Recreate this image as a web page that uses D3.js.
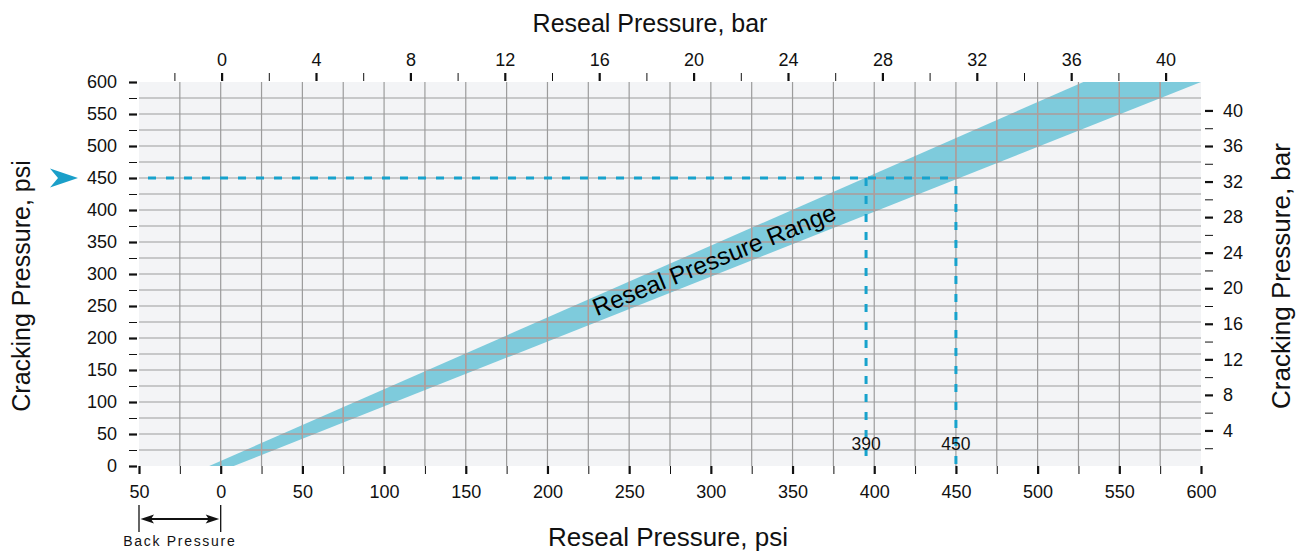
<!DOCTYPE html>
<html><head><meta charset="utf-8">
<script src="https://cdn.jsdelivr.net/npm/d3@7"></script>
<style>
html,body{margin:0;padding:0;background:#fff;}
svg{display:block;font-family:"Liberation Sans",Arial,Helvetica,sans-serif;}
</style></head><body>
<svg id="chart" width="1301" height="553"></svg>
<script>
// ---- data ----
const psiMajorTicksX = [-50,0,50,100,150,200,250,300,350,400,450,500,550,600];
const psiMinorTicksX = [-25,25,75,125,175,225,275,325,375,425,475,525,575];
const psiMajorTicksY = [0,50,100,150,200,250,300,350,400,450,500,550,600];
const psiMinorTicksY = [25,75,125,175,225,275,325,375,425,475,525,575];
const gridX = [-25,0,25,50,75,100,125,150,175,200,225,250,275,300,325,350,375,400,425,450,475,500,525,550,575];
const gridY = [25,50,75,100,125,150,175,200,225,250,275,300,325,350,375,400,425,450,475,500,525,550,575];
const barMajorTicksTop = [0,4,8,12,16,20,24,28,32,36,40];
const barMinorTicksTop = [-2,2,6,10,14,18,22,26,30,34,38];
const barMajorTicksRight = [4,8,12,16,20,24,28,32,36,40];
const barMinorTicksRight = [2,6,10,14,18,22,26,30,34,38];
// band edges: [reseal psi, cracking psi]
const bandUpperEdge = [[-7,0],[528,600]];
const bandLowerEdge = [[8,0],[600,600]];
const crackingExample = 450;
const resealMarks = [{psi:395,label:"390"},{psi:450,label:"450"}];
const backPressure = [-50,0];

// ---- scales ----
const svg = d3.select("#chart");
const x = d3.scaleLinear().domain([-50,600]).range([139,1201]);
const y = d3.scaleLinear().domain([0,600]).range([466,82]);
const xBar = d3.scaleLinear().domain([-3.5,41.5]).range([139,1201]);
const yBar = d3.scaleLinear().domain([0,43.2]).range([466,82]);

const ink = "#111";
const teal = "#7ecbdc";
const dash = "#17a2cc";

// plot background
svg.append("rect").attr("x",x(-50)).attr("y",y(600))
  .attr("width",x(600)-x(-50)).attr("height",y(0)-y(600)).attr("fill","#f3f4f6");

// band
const bandPts = bandUpperEdge.concat(bandLowerEdge.slice().reverse());
const bandPath = d3.line().x(d=>x(d[0])).y(d=>y(d[1]))(bandPts) + "Z";
svg.append("defs").append("clipPath").attr("id","bandClip")
  .append("path").attr("d",bandPath);
svg.append("path").attr("d",bandPath).attr("fill",teal);

// grid
function drawGrid(g, color){
  g.selectAll(".gx").data(gridX).enter().append("line")
    .attr("x1",d=>x(d)).attr("x2",d=>x(d)).attr("y1",y(0)).attr("y2",y(600))
    .attr("stroke",color).attr("stroke-width",1.2);
  g.selectAll(".gy").data(gridY).enter().append("line")
    .attr("x1",x(-50)).attr("x2",x(600)).attr("y1",d=>y(d)).attr("y2",d=>y(d))
    .attr("stroke",color).attr("stroke-width",1.2);
}
drawGrid(svg.append("g"), "#9c9c9c");
drawGrid(svg.append("g").attr("clip-path","url(#bandClip)"), "#b39c98");

// dashed guide lines
const xLow = resealMarks[resealMarks.length-1].psi;
svg.append("line").attr("x1",x(-50)).attr("x2",x(xLow))
  .attr("y1",y(crackingExample)).attr("y2",y(crackingExample))
  .attr("stroke",dash).attr("stroke-width",3)
  .attr("stroke-dasharray","8,10").attr("stroke-dashoffset",9);
resealMarks.forEach((m,i)=>{
  svg.append("line").attr("x1",x(m.psi)).attr("x2",x(m.psi))
    .attr("y1",y(crackingExample)).attr("y2",y(0))
    .attr("stroke",dash).attr("stroke-width",3)
    .attr("stroke-dasharray","8,10").attr("stroke-dashoffset", i===0?0:-8);
  svg.append("text").attr("x",x(m.psi)).attr("y",y(35)).attr("dy","0.35em")
    .attr("text-anchor","middle").attr("font-size",17.5).attr("fill",ink).text(m.label);
});

// band label
svg.append("text")
  .attr("transform",`translate(${x(304)},${y(310)}) rotate(-22)`)
  .attr("text-anchor","middle").attr("font-size",24.5).attr("fill","#000")
  .text("Reseal Pressure Range");

// axes
function styleAxis(g, major, fs){
  g.select(".domain").remove();
  g.attr("font-family",null).attr("font-size",null);
  g.selectAll(".tick line").attr("stroke",ink).attr("stroke-width",major?2.2:1);
  g.selectAll(".tick text").attr("fill",ink).attr("font-size",fs);
}
// left
styleAxis(svg.append("g").attr("transform","translate(137,0)")
  .call(d3.axisLeft(y).tickValues(psiMajorTicksY).tickSize(8).tickPadding(12)), true, 18);
styleAxis(svg.append("g").attr("transform","translate(137,0)")
  .call(d3.axisLeft(y).tickValues(psiMinorTicksY).tickSize(8).tickFormat("")), false, 18);
// bottom
styleAxis(svg.append("g").attr("transform","translate(0,466)")
  .call(d3.axisBottom(x).tickValues(psiMajorTicksX).tickSize(8).tickPadding(11).tickFormat(d=>Math.abs(d))), true, 18);
styleAxis(svg.append("g").attr("transform","translate(0,466)")
  .call(d3.axisBottom(x).tickValues(psiMinorTicksX).tickSize(8).tickFormat("")), false, 18);
// top
styleAxis(svg.append("g").attr("transform","translate(0,81)")
  .call(d3.axisTop(xBar).tickValues(barMajorTicksTop).tickSize(8).tickPadding(7)), true, 18);
styleAxis(svg.append("g").attr("transform","translate(0,81)")
  .call(d3.axisTop(xBar).tickValues(barMinorTicksTop).tickSize(8).tickFormat("")), false, 18);
// right
styleAxis(svg.append("g").attr("transform","translate(1205,0)")
  .call(d3.axisRight(yBar).tickValues(barMajorTicksRight).tickSize(8).tickPadding(10)), true, 18);
styleAxis(svg.append("g").attr("transform","translate(1205,0)")
  .call(d3.axisRight(yBar).tickValues(barMinorTicksRight).tickSize(8).tickFormat("")), false, 18);

// axis titles
svg.append("text").attr("x",650).attr("y",32).attr("text-anchor","middle")
  .attr("font-size",25).attr("fill",ink).text("Reseal Pressure, bar");
svg.append("text").attr("x",668).attr("y",546).attr("text-anchor","middle")
  .attr("font-size",26).attr("fill",ink).text("Reseal Pressure, psi");
svg.append("text").attr("transform","translate(30,286) rotate(-90)").attr("text-anchor","middle")
  .attr("font-size",25).attr("fill",ink).text("Cracking Pressure, psi");
svg.append("text").attr("transform","translate(1290,276) rotate(-90)").attr("text-anchor","middle")
  .attr("font-size",26).attr("fill",ink).text("Cracking Pressure, bar");

// arrow marker pointing at cracking pressure
const ay = y(crackingExample);
svg.append("path")
  .attr("d",`M78,${ay} L50,${ay-9.5} L58,${ay} L50,${ay+9.5} Z`)
  .attr("fill","#1a9fc9");

// back pressure annotation
const bx0 = x(backPressure[0]), bx1 = x(backPressure[1]);
svg.selectAll(".bpl").data([bx0,bx1]).enter().append("line")
  .attr("x1",d=>d).attr("x2",d=>d).attr("y1",505).attr("y2",532)
  .attr("stroke",ink).attr("stroke-width",1.3);
svg.append("line").attr("x1",bx0+8).attr("x2",bx1-8).attr("y1",519).attr("y2",519)
  .attr("stroke",ink).attr("stroke-width",2);
svg.append("path").attr("d",`M${bx0+1.5},519 L${bx0+15},514.5 L${bx0+12},519 L${bx0+15},523.5 Z`).attr("fill",ink);
svg.append("path").attr("d",`M${bx1-1.5},519 L${bx1-15},514.5 L${bx1-12},519 L${bx1-15},523.5 Z`).attr("fill",ink);
svg.append("text").attr("x",(bx0+bx1)/2).attr("y",546).attr("text-anchor","middle")
  .attr("font-size",14).attr("letter-spacing","1.7px").attr("fill",ink).text("Back Pressure");
</script></body></html>
